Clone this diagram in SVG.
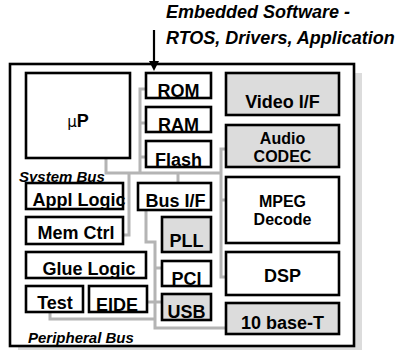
<svg xmlns="http://www.w3.org/2000/svg" width="403" height="350" viewBox="0 0 403 350">
<style>
.box{fill:#fff;stroke:#000;stroke-width:2.6}
.g{fill:#dcdcdc}
.t{font-family:"Liberation Sans",Arial,sans-serif;font-weight:bold;font-size:18px;text-anchor:middle;fill:#000}
.t2{font-size:16px}
.it{font-family:"Liberation Sans",Arial,sans-serif;font-weight:bold;font-style:italic;fill:#000}
.bus{fill:none;stroke:#b4b4b4;stroke-width:3}
</style>
<rect x="18" y="73" width="344" height="282" fill="#dcdcdc"/>
<rect x="10" y="64" width="344" height="282" fill="#fff" stroke="#000" stroke-width="2.6"/>
<g id="title">
<text class="it" x="166" y="18" font-size="18">Embedded Software -</text>
<text class="it" x="166" y="44" font-size="18">RTOS, Drivers, Application</text>
</g>
<g id="connectors">
<path class="bus" d="M106,158 V173 H221"/>
<path class="bus" d="M146,89 H140 V173"/>
<path class="bus" d="M140,123 H146 M140,157 H146"/>
<path class="bus" d="M129,173 V235 H123"/>
<path class="bus" d="M178,173 V183"/>
<path class="bus" d="M226,149 H221 V277 H226 M221,200 H226"/>
<path class="bus" d="M146,210 V242 H155 V328 H226 M155,268 H162"/>
<path class="bus" d="M147,302 H162"/>
<path class="bus" d="M50,312 V319 H155"/>
<line x1="154" y1="30" x2="154" y2="62" stroke="#000" stroke-width="2.2"/>
<path d="M149,61 L159,61 L154,71 Z" fill="#000"/>
</g>
<g id="up"><rect class="box" x="26" y="73" width="104" height="85"/><text class="t" x="78" y="127"><tspan font-weight="normal" font-family="DejaVu Sans,sans-serif" font-size="15">μ</tspan>P</text></g>
<g id="sysbus"><text class="it" x="19" y="182" font-size="15">System Bus</text></g>
<g id="appl"><rect class="box" x="26" y="183" width="97" height="26"/><text class="t" x="79" y="206">Appl Logic</text></g>
<g id="memctrl"><rect class="box" x="26" y="217" width="97" height="27"/><text class="t" x="76" y="239">Mem Ctrl</text></g>
<g id="glue"><rect class="box" x="26" y="252" width="120" height="26"/><text class="t" x="89" y="275">Glue Logic</text></g>
<g id="test"><rect class="box" x="26" y="286" width="57" height="26"/><text class="t" x="55" y="309" font-size="15">Test</text></g>
<g id="eide"><rect class="box" x="89" y="286" width="58" height="26"/><text class="t" x="117" y="311">EIDE</text></g>
<g id="perbus"><text class="it" x="28" y="343" font-size="15">Peripheral Bus</text></g>
<g id="rom"><rect class="box" x="146" y="73" width="65" height="25"/><text class="t" x="178.5" y="96.5">ROM</text></g>
<g id="ram"><rect class="box" x="146" y="107" width="65" height="25"/><text class="t" x="178.5" y="131">RAM</text></g>
<g id="flash"><rect class="box" x="146" y="141" width="65" height="26"/><text class="t" x="178.5" y="166">Flash</text></g>
<g id="busif"><rect class="box" x="138" y="183" width="73" height="27"/><text class="t" x="175.5" y="207">Bus I/F</text></g>
<g id="pll"><rect class="box g" x="162" y="217" width="49" height="35"/><text class="t" x="186.5" y="247">PLL</text></g>
<g id="pci"><rect class="box" x="162" y="261" width="49" height="25"/><text class="t" x="186.5" y="285">PCI</text></g>
<g id="usb"><rect class="box g" x="162" y="294" width="49" height="26"/><text class="t" x="186.5" y="318">USB</text></g>
<g id="video"><rect class="box g" x="226" y="73" width="113" height="42"/><text class="t" x="282.5" y="108">Video I/F</text></g>
<g id="audio"><rect class="box g" x="226" y="125" width="113" height="42"/><text class="t t2" x="282.5" y="144">Audio</text><text class="t t2" x="282.5" y="162">CODEC</text></g>
<g id="mpeg"><rect class="box" x="226" y="177" width="113" height="66"/><text class="t t2" x="282.5" y="207">MPEG</text><text class="t t2" x="282.5" y="225">Decode</text></g>
<g id="dsp"><rect class="box" x="226" y="252" width="113" height="43"/><text class="t" x="282.5" y="282">DSP</text></g>
<g id="tenbase"><rect class="box g" x="226" y="303" width="113" height="31"/><text class="t" x="282.5" y="329">10 base-T</text></g>
</svg>
